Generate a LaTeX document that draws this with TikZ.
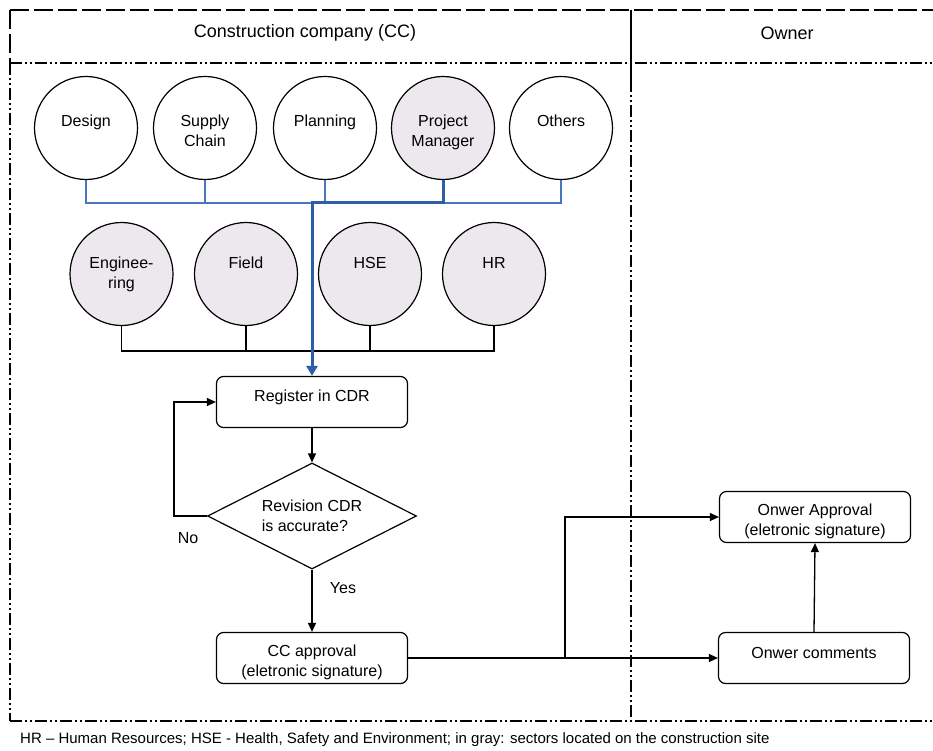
\documentclass[tikz,border=0pt]{standalone}
\usepackage{fontspec}
\setmainfont{Liberation Sans}
\usetikzlibrary{shapes.geometric,arrows.meta}
\definecolor{sitegray}{HTML}{ECE8EE}
\definecolor{busblue}{HTML}{4A76C0}
\definecolor{mainblue}{HTML}{2D5FA8}
\newcommand{\toptext}[3][96pt]{\parbox[c][#2][t]{#1}{\centering #3}}
\tikzset{
  frm/.style={line width=1.3pt, black},
  dashlong/.style={dash pattern=on 19pt off 5pt},
  dashdd/.style={dash pattern=on 12pt off 3pt on 2pt off 3pt on 2pt off 3pt},
  txt/.style={font=\fontsize{16}{19.5}\selectfont},
  circ/.style={circle, draw, line width=1.2pt, minimum size=103pt, inner sep=0pt, txt, fill=white},
  sitecirc/.style={circ, fill=sitegray},
  proc/.style={draw, rounded corners=7pt, minimum width=191pt, minimum height=51pt, line width=1.2pt, inner sep=0pt, txt, fill=white},
  dec/.style={diamond, draw, line width=1.2pt, aspect=2, minimum width=209pt, minimum height=106pt, inner sep=0pt, txt, align=left},
  conn/.style={line width=1.3pt, black},
  arr/.style={conn, -{Triangle[length=9pt,width=8pt]}},
  thinblue/.style={line width=1.3pt, busblue},
  thickblue/.style={line width=3pt, mainblue, -{Triangle[length=10pt,width=11pt]}},
  lbl/.style={txt}
}
\begin{document}
\begin{tikzpicture}[x=1pt,y=-1pt]
\useasboundingbox (0,0) rectangle (933,751);
% frame
\draw[frm,dashlong] (10,10) -- (933,10);
\draw[frm,dashlong] (10,10) -- (10,63);
\draw[frm,dashdd] (10,63) -- (10,721);
\draw[frm,dashdd] (10,63) -- (933,63);
\draw[frm,dashdd] (10,721) -- (933,721);
\draw[frm] (631,10) -- (631,80);
\draw[frm,dashdd] (631,80) -- (631,721);
% headers
\node[font=\fontsize{18}{22}\selectfont] (cchead) at (305,33) {Construction company (CC)};
\node[font=\fontsize{18}{22}\selectfont] (ownerhead) at (787,33) {Owner};
% row 1
\node[circ] (design) at (86,128) {\toptext{26pt}{Design}};
\node[circ] (supply) at (205,128) {\toptext{26pt}{Supply\\Chain}};
\node[circ] (planning) at (325,128) {\toptext{26pt}{Planning}};
\node[sitecirc] (pm) at (443,128) {\toptext{26pt}{Project\\Manager}};
\node[circ] (others) at (561,128) {\toptext{26pt}{Others}};
\coordinate (bus1) at (0,203);
% row 2
\node[sitecirc] (eng) at (121.5,274) {\toptext{34pt}{Enginee-\\ring}};
\node[sitecirc] (field) at (246,274) {\toptext{34pt}{Field}};
\node[sitecirc] (hse) at (370,274) {\toptext{34pt}{HSE}};
\node[sitecirc] (hr) at (494,274) {\toptext{34pt}{HR}};
\coordinate (bus2) at (0,351);
% flow
\node[proc] (reg) at (312,402) {\toptext[185pt]{24pt}{Register in CDR}};
\node[dec] (rev) at (312,516) {Revision CDR\\is accurate?};
\node[proc] (cc) at (312,658) {\toptext[185pt]{26pt}{CC approval\\(eletronic signature)}};
\node[proc] (oappr) at (815,517) {\toptext[185pt]{26pt}{Onwer Approval\\(eletronic signature)}};
\node[proc] (ocomm) at (814,658) {\toptext[185pt]{22pt}{Onwer comments}};
\coordinate (split) at (565,658);
% row 1 bus
\draw[thinblue] (design.south) -- (design.south |- bus1) -- (others.south |- bus1) -- (others.south);
\draw[thinblue] (supply.south) -- (supply.south |- bus1);
\draw[thinblue] (planning.south) -- (planning.south |- bus1);
% row 2 bus
\draw[conn] (eng.south) -- (eng.south |- bus2) -- (hr.south |- bus2) -- (hr.south);
\draw[conn] (field.south) -- (field.south |- bus2);
\draw[conn] (hse.south) -- (hse.south |- bus2);
% main blue path
\draw[thickblue] (pm.south) -- (pm.south |- bus1) -- (reg.north |- bus1) -- (reg.north);
% flow connectors
\draw[arr] (reg) -- (rev);
\draw[arr] (rev.west) -- ++(-33,0) |- (reg.west);
\node[lbl] (nolbl) at (188,538) {No};
\draw[arr] (rev.south) -- (cc.north);
\node[lbl] (yeslbl) at (343,588) {Yes};
\draw[conn] (cc.east) -- (split);
\draw[arr] (split) |- (oappr.west);
\draw[arr] (split) -- (ocomm.west);
\draw[arr] (ocomm.north) -- (oappr.south);
% footer
\node[anchor=west, font=\fontsize{15}{18}\selectfont, inner sep=0pt] (footer) at (20,740) {HR -- Human Resources; HSE - Health, Safety and Environment; in gray: sectors located on the construction site};
\end{tikzpicture}
\end{document}
